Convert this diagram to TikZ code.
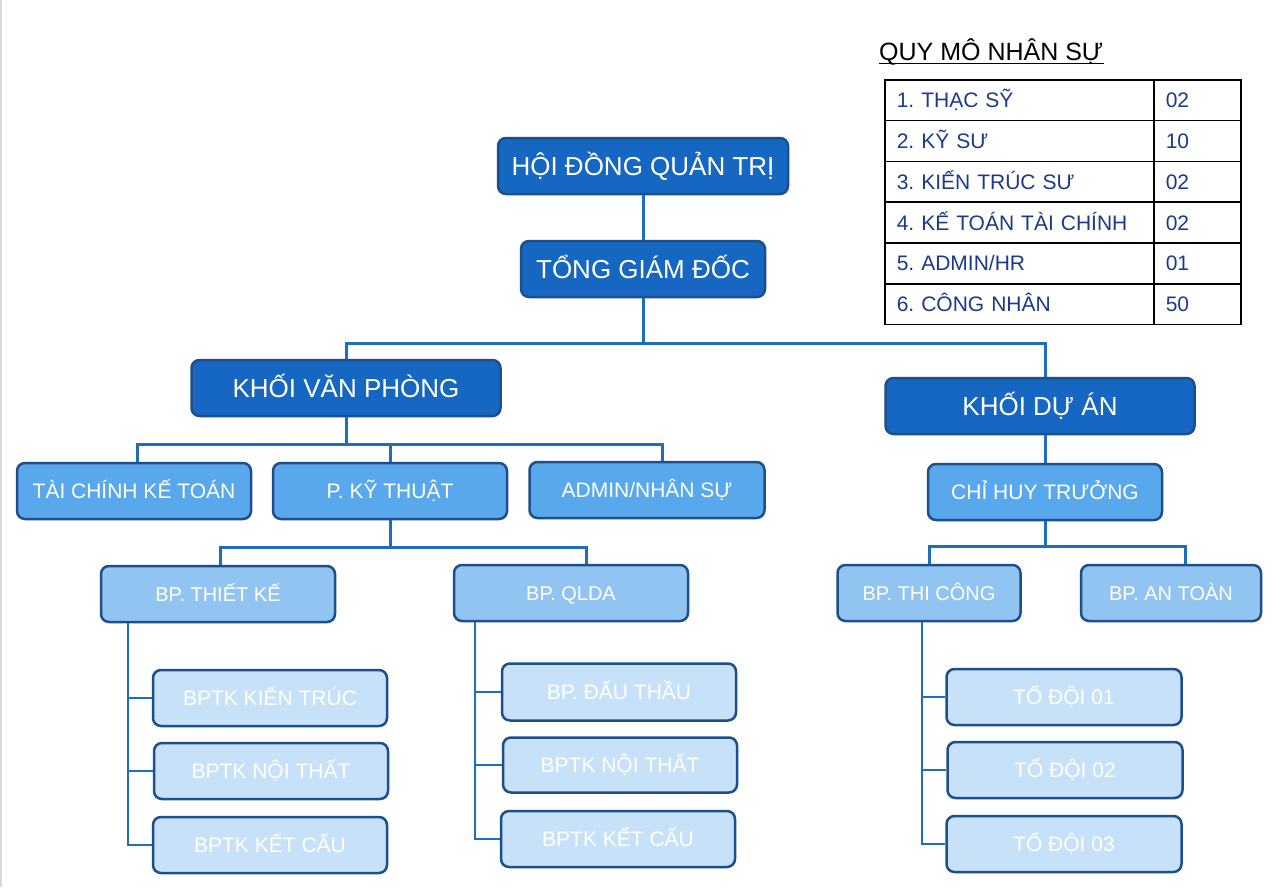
\documentclass[tikz,border=0pt]{standalone}
\usepackage{fontspec}
\setmainfont{Liberation Sans}
\frenchspacing
\definecolor{cA}{HTML}{1667C2}
\definecolor{cB}{HTML}{5AA8EC}
\definecolor{cC}{HTML}{92C4F2}
\definecolor{cD}{HTML}{C7E1F8}
\definecolor{edge}{HTML}{1C4F8C}
\definecolor{conn}{HTML}{1E6EBE}
\definecolor{navy}{HTML}{1C3A8C}
\tikzset{
  box/.style={draw=edge, line width=2.5pt, rounded corners=8pt, text=white, inner sep=0pt,
    text depth=0pt, align=center},
  lA/.style={box, fill=cA, font=\fontsize{26}{30}\selectfont, text height=18pt},
  lB/.style={box, fill=cB, font=\fontsize{21}{25}\selectfont, text height=15pt, minimum width=234pt, minimum height=56pt},
  lC/.style={box, fill=cC, font=\fontsize{20}{24}\selectfont, text height=14.3pt, minimum width=234pt, minimum height=56pt},
  lD/.style={box, fill=cD, font=\fontsize{21}{25}\selectfont, text height=15pt, minimum width=234pt, minimum height=56pt},
  wire/.style={draw=conn, line width=3pt},
  twire/.style={draw=conn, line width=2.2pt},
  cellL/.style={draw=black, line width=1.5pt, anchor=north west, inner xsep=12pt, inner ysep=0pt,
    text width=245pt, minimum height=40.8pt, align=left, text=navy,
    font=\fontsize{21}{25}\selectfont, text height=15pt, text depth=0pt},
  cellR/.style={cellL, text width=63pt},
}
\begin{document}
\begin{tikzpicture}[x=1pt,y=-1pt]
\useasboundingbox (0,0) rectangle (1280,887);
\fill[white] (0,0) rectangle (1280,887);
\draw[black!15, line width=2pt] (1,0) -- (1,887);

% top levels
\node[lA, minimum width=290pt, minimum height=56pt] (hdqt) at (643,166) {HỘI ĐỒNG QUẢN TRỊ};
\node[lA, minimum width=244pt, minimum height=56pt] (tgd) at (643,269) {TỔNG GIÁM ĐỐC};
\node[lA, minimum width=309pt, minimum height=56pt] (kvp) at (346,388) {KHỐI VĂN PHÒNG};
\node[lA, minimum width=309pt, minimum height=56pt] (kda) at (1040,406) {KHỐI DỰ ÁN};

% level B
\node[lB] (tckt) at (134,491) {TÀI CHÍNH KẾ TOÁN};
\node[lB] (pkt) at (390,491) {P. KỸ THUẬT};
\node[lB, minimum width=235pt] (adm) at (647,490) {ADMIN/NHÂN SỰ};
\node[lB] (cht) at (1045,492) {CHỈ HUY TRƯỞNG};

% level C
\node[lC] (tk) at (218,594) {BP. THIẾT KẾ};
\node[lC] (qlda) at (571,593) {BP. QLDA};
\node[lC, minimum width=183pt] (tc) at (929,593) {BP. THI CÔNG};
\node[lC, minimum width=180pt] (at) at (1171,593) {BP. AN TOÀN};

% level D
\node[lD] (tkkt) at (270,698) {BPTK KIẾN TRÚC};
\node[lD] (tknt) at (271,771) {BPTK NỘI THẤT};
\node[lD] (tkkc) at (270,845) {BPTK KẾT CẤU};
\node[lD, minimum height=57pt] (qdt) at (619,692) {BP. ĐẤU THẦU};
\node[lD, minimum height=55pt] (qnt) at (620,765) {BPTK NỘI THẤT};
\node[lD, minimum height=56pt] (qkc) at (618,839) {BPTK KẾT CẤU};
\node[lD, minimum width=235pt] (td1) at (1064,697) {TỔ ĐỘI 01};
\node[lD, minimum width=235pt] (td2) at (1065,770) {TỔ ĐỘI 02};
\node[lD, minimum width=235pt] (td3) at (1064,844) {TỔ ĐỘI 03};

% connectors
\draw[wire] (hdqt.south) -- (tgd.north);
\draw[wire] (tgd.south) -- ++(0,45) coordinate (b1);
\draw[wire] (kvp.north) |- (b1) -| (cht.north |- kda.north);
\draw[wire] (cht.north |- kda.south) -- (cht.north);

\draw[wire] (kvp.south) -- ++(0,27) coordinate (b2);
\draw[wire] ([xshift=3pt]tckt.north) |- (b2) -| ([xshift=15pt]adm.north);
\draw[wire] (pkt.north) -- (pkt.north |- b2);

\draw[wire] (pkt.south) -- ++(0,27) coordinate (b3);
\draw[wire] ([xshift=2pt]tk.north) |- (b3) -| ([xshift=15pt]qlda.north);

\draw[wire] (cht.south) -- ++(0,25) coordinate (b4);
\draw[wire] (tc.north) |- (b4) -| ([xshift=14pt]at.north);

\draw[twire] ([xshift=28pt]tk.south west) coordinate (x1) |- (tkkc.west);
\draw[twire] (x1 |- tkkt.west) -- (tkkt.west);
\draw[twire] (x1 |- tknt.west) -- (tknt.west);

\draw[twire] ([xshift=22pt]qlda.south west) coordinate (x2) |- (qkc.west);
\draw[twire] (x2 |- qdt.west) -- (qdt.west);
\draw[twire] (x2 |- qnt.west) -- (qnt.west);

\draw[twire] ([xshift=86pt]tc.south west) coordinate (x3) |- (td3.west);
\draw[twire] (x3 |- td1.west) -- (td1.west);
\draw[twire] (x3 |- td2.west) -- (td2.west);

% staff table
\node[anchor=base west, inner sep=0pt, font=\fontsize{25}{30}\selectfont, text height=18pt, text depth=3.5pt] (title) at (879,60) {QUY MÔ NHÂN SỰ};
\draw[black, line width=1.3pt] (title.south west) -- (title.south east);

\node[cellL] (r1l) at (884,79) {1. THẠC SỸ};
\node[cellR] (r1r) at (1153,79) {02};
\node[cellL] (r2l) at (884,119.8) {2. KỸ SƯ};
\node[cellR] (r2r) at (1153,119.8) {10};
\node[cellL] (r3l) at (884,160.6) {3. KIẾN TRÚC SƯ};
\node[cellR] (r3r) at (1153,160.6) {02};
\node[cellL] (r4l) at (884,201.4) {4. KẾ TOÁN TÀI CHÍNH};
\node[cellR] (r4r) at (1153,201.4) {02};
\node[cellL] (r5l) at (884,242.2) {5. ADMIN/HR};
\node[cellR] (r5r) at (1153,242.2) {01};
\node[cellL] (r6l) at (884,283) {6. CÔNG NHÂN};
\node[cellR] (r6r) at (1153,283) {50};
\end{tikzpicture}
\end{document}
